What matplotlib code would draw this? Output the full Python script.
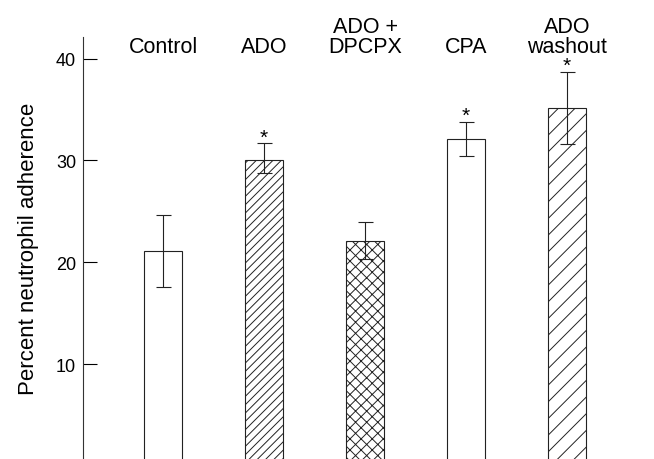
import matplotlib
matplotlib.use("Agg")
import matplotlib.pyplot as plt

# group labels and readings (percent adherence)
groups = ["Control", "ADO", "ADO +\nDPCPX", "CPA", "ADO\nwashout"]
means = [21.1, 30.0, 22.1, 32.1, 35.1]
err_low = [3.5, 1.2, 1.8, 1.7, 3.5]
err_high = [3.5, 1.7, 1.9, 1.7, 3.6]
starred = [False, True, False, True, True]
hatches = ["", "////", "xxx", "", "//"]

plt.rcParams["font.family"] = ["Liberation Sans", "DejaVu Sans"]
plt.rcParams["hatch.linewidth"] = 0.7

fig = plt.figure(figsize=(6.54, 4.60), dpi=100)
ax = fig.add_axes([0.127, 0.0, 0.873, 0.917])

x = list(range(len(groups)))
for i in x:
    ax.bar(i, means[i], width=0.376, color="white", edgecolor="#222222",
           linewidth=0.8, hatch=hatches[i])

# error bars
ax.errorbar(x, means, yerr=[err_low, err_high], fmt="none", ecolor="#222222",
            elinewidth=0.8, capsize=5.4, capthick=0.8)

# significance stars
for i in x:
    if starred[i]:
        ax.annotate("*", (i, means[i] + err_high[i]), xytext=(0, -2.5),
                    textcoords="offset points", ha="center", va="bottom",
                    fontsize=15)

# group names along the top
for i in x:
    ax.text(i, 40.6, groups[i], ha="center", va="baseline", fontsize=15.5,
            linespacing=0.98, clip_on=False)

ax.set_xlim(-0.792, 4.861)
ax.set_ylim(0.68, 42.1)
ax.set_yticks([10, 20, 30, 40])
ax.tick_params(axis="y", direction="in", length=10, width=0.8,
               labelsize=13, pad=5)
ax.set_xticks([])
for s in ["top", "right", "bottom"]:
    ax.spines[s].set_visible(False)
ax.spines["left"].set_linewidth(0.8)
ax.spines["left"].set_color("#333333")

ax.set_ylabel("Percent neutrophil adherence", fontsize=16, labelpad=12)

fig.savefig("out.png", dpi=100)
